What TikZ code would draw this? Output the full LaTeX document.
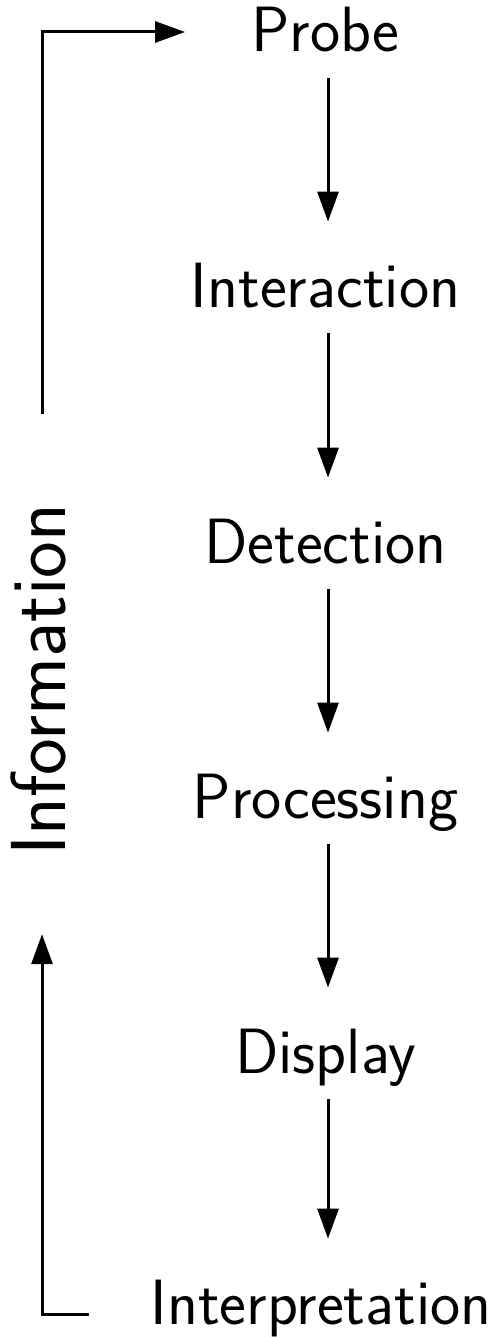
\documentclass[tikz,border=0pt]{standalone}
\usepackage{fontspec}
\usetikzlibrary{arrows.meta}
\begin{document}
\begin{tikzpicture}[x=0.5pt,y=-0.5pt,
  lbl/.style={font=\sffamily\fontsize{32}{38}\selectfont, inner sep=0pt, text height=22pt, text depth=0pt, anchor=base},
  arr/.style={line width=1.5pt, -{Triangle[length=15pt,width=10.5pt]}},
  flow/.style={arr, shorten <=13pt, shorten >=20.5pt}]
\useasboundingbox (0,0) rectangle (501,1337);
\node[lbl] (probe) at (325.5,52) {Probe};
\node[lbl] (inter) at (325.5,307) {Interaction};
\node[lbl] (detec) at (325.5,563) {Detection};
\node[lbl] (proc) at (325.5,818) {Processing};
\node[lbl] (disp) at (325.5,1073) {Display};
\node[lbl] (interp) at (321,1324) {Interpretation};
\node[font=\sffamily\fontsize{39}{46}\selectfont, inner sep=0pt, text height=23pt, text depth=0pt, rotate=90, anchor=base] (info) at (65,680) {Information};
\coordinate (ax) at (328,0);
\draw[flow] (probe.south -| ax) -- (inter.north -| ax);
\draw[flow] (inter.south -| ax) -- (detec.north -| ax);
\draw[flow] (detec.south -| ax) -- (proc.north -| ax);
\draw[flow] (proc.south -| ax) -- (disp.north -| ax);
\draw[flow] (disp.south -| ax) -- (interp.north -| ax);
\coordinate (bl) at (89,1314);
\coordinate (tr) at (185,32);
\draw[arr, shorten >=39pt] (bl) -| (info.west);
\draw[arr, shorten <=45pt] (info.east) |- (tr);
\end{tikzpicture}
\end{document}
